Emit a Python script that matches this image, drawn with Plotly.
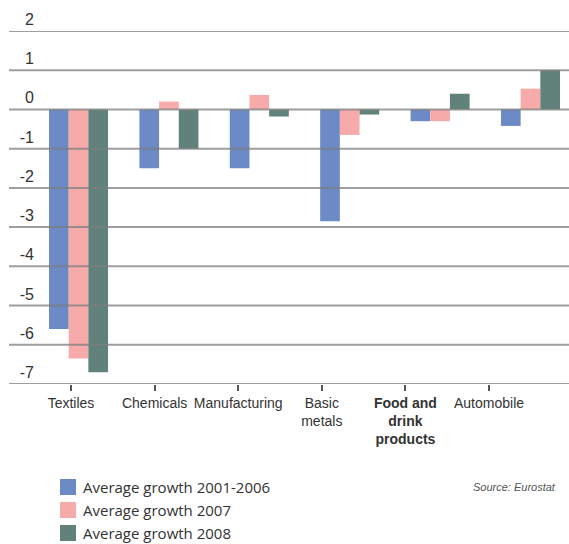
import plotly.graph_objects as go

# ── Data ──────────────────────────────────────────────────────────────────────
sectors = ["Textiles", "Chemicals", "Manufacturing", "Basic metals",
           "Food and drink products", "Automobile"]
sector_labels = ["Textiles", "Chemicals", "Manufacturing", "Basic<br>metals",
                 "<b>Food and<br>drink<br>products</b>", "Automobile"]
growth_2001_2006 = [-5.6, -1.5, -1.5, -2.85, -0.3, -0.42]
growth_2007 = [-6.35, 0.2, 0.37, -0.65, -0.3, 0.53]
growth_2008 = [-6.7, -1.0, -0.18, -0.13, 0.4, 1.0]
series_names = ["Average growth 2001-2006", "Average growth 2007", "Average growth 2008"]
series_colors = ["#6b8ac6", "#f7aaaa", "#60827b"]
y_ticks = [2, 1, 0, -1, -2, -3, -4, -5, -6, -7]

W, H = 569, 544
L, R, T, B = 9, 0, 31, 160
plot_w = W - L - R
plot_h = H - T - B

SANS = "Liberation Sans"


def px_x(p):
    return (p - L) / plot_w


def px_y(p):
    return (H - B - p) / plot_h


fig = go.Figure()
for name, vals, col in zip(series_names, [growth_2001_2006, growth_2007, growth_2008], series_colors):
    fig.add_trace(go.Bar(x=sectors, y=vals, name=name, marker_color=col,
                         marker_line_width=0, showlegend=False))

# empty trace so the label axis is drawn
fig.add_trace(go.Scatter(x=sectors, y=[None] * len(sectors), xaxis="x2",
                         showlegend=False, hoverinfo="skip"))

# horizontal grid lines drawn above the bars, value labels sit above each line
for v in y_ticks:
    fig.add_shape(type="line", xref="paper", yref="y", x0=0, x1=1, y0=v, y1=v,
                  line=dict(color="rgba(125,125,125,0.75)", width=2), layer="above")
    fig.add_annotation(xref="paper", yref="y", x=px_x(36), y=v, text=str(v),
                       showarrow=False, xanchor="right", yanchor="bottom", yshift=1,
                       width=30, align="right",
                       font=dict(family=SANS, size=16, color="#333"))

# legend drawn by hand
legend_rows = [487, 510, 533]
for name, col, row in zip(series_names, series_colors, legend_rows):
    fig.add_shape(type="rect", xref="paper", yref="paper",
                  xsizemode="pixel", ysizemode="pixel",
                  xanchor=px_x(68), yanchor=px_y(row), x0=-8, x1=8, y0=-8, y1=8,
                  fillcolor=col, line_width=0)
    fig.add_annotation(xref="paper", yref="paper", x=px_x(81), y=px_y(row), text=name,
                       showarrow=False, xanchor="left", yanchor="middle",
                       font=dict(family="Open Sans", size=15, color="#333"))

fig.add_annotation(xref="paper", yref="paper", x=px_x(558), y=px_y(487),
                   text="<i>Source: Eurostat</i>", showarrow=False,
                   xanchor="right", yanchor="middle",
                   font=dict(family=SANS, size=11, color="#555"))

fig.update_layout(
    width=W, height=H,
    margin=dict(l=L, r=R, t=T, b=B, autoexpand=False),
    paper_bgcolor="white", plot_bgcolor="white",
    barmode="group", bargap=0.347, bargroupgap=0,
    xaxis=dict(type="category", range=[-0.769, 5.426], showticklabels=False,
               showgrid=False, zeroline=False, showline=False, ticks=""),
    xaxis2=dict(type="category", overlaying="x", anchor="y", side="bottom",
                range=[-0.742, 5.957], tickvals=sectors, ticktext=sector_labels,
                tickangle=0, automargin=False,
                ticks="outside", ticklen=6, tickwidth=1.5, tickcolor="#555",
                showgrid=False, zeroline=False, showline=False,
                tickfont=dict(family=SANS, size=14, color="#333")),
    yaxis=dict(range=[-7, 2], showticklabels=False, showgrid=False,
               zeroline=False, showline=False),
)

fig.write_html("out.html", config={"displayModeBar": False},
               post_script="document.body.style.margin='0';")
